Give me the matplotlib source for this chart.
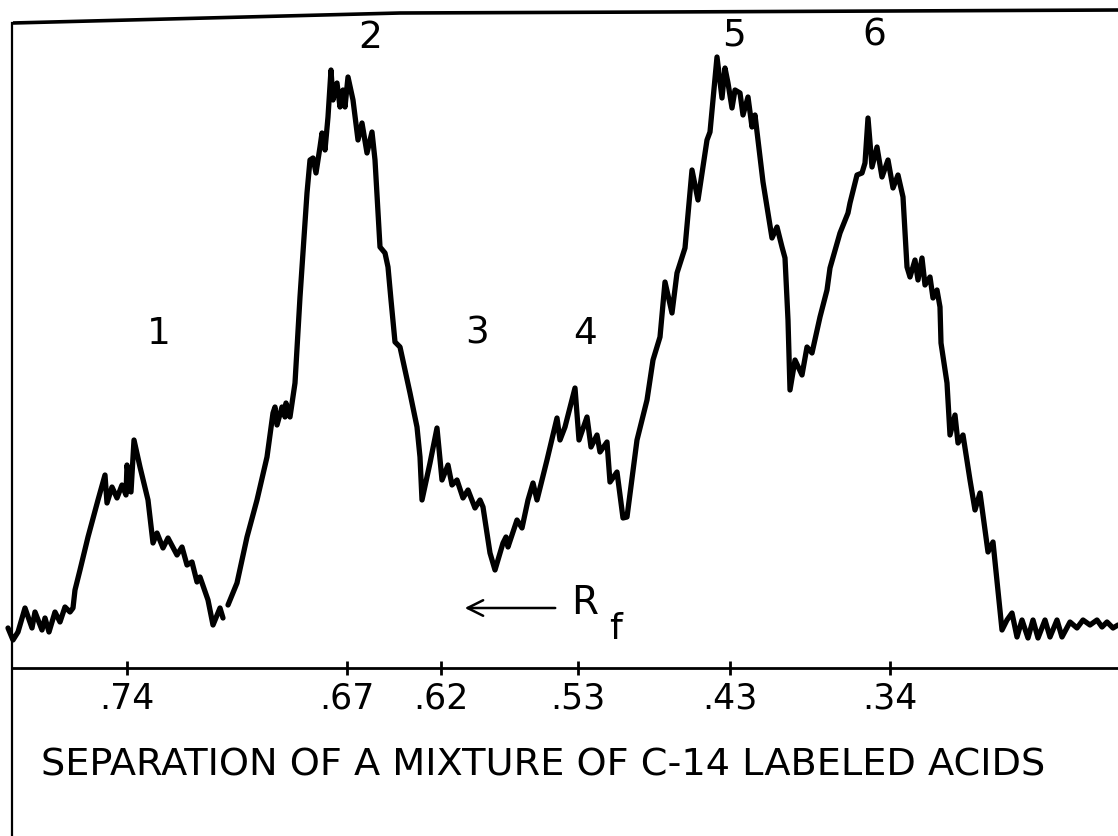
import numpy as np
import matplotlib.pyplot as plt

# Radioactivity scan of a paper strip: pen height above baseline vs. position along strip.
# NaN marks where the recorder pen lifted off the paper.
strip_pos = [
    8, 13, 18, 25, 32, 35, 42, 45, 49, 55, 60, 65, 70, 73, 75, 80, 88, 98, 105, 107,
    112, 117, 122, 126, 127, 131, 134, 140, 148, 153, 157, 163, 168, 177, 182, 187, 192, 197, 200, 208,
    213, 220, 223, np.nan,
    228, 237, 247, 257, 267, 273, 275, 277, 282, 285, 286, 290, 295, 300, 307, 310, 313, 316, 320, 322,
    325, 328, 331, 333, 337, 340, 343, 345, 348, 353, 358, 362, 367, 372, 375, 380, 385, 388, 391, 395,
    400, 410, 417, 420, 422, 430, 437, 442, 448, 452, 457, 463, 468, 475, 480, 483, 490, 495, 503, 506,
    508, 517, 522, 528, 533, 537, 547, 557, 560, 565, 575, 579, 587, 591, 597, 600, 607, 610, 617, 623,
    627, 637, 647, 653, 660, 665, 672, 677, 685, 692, 698, 707, 710, 717, 722, 725, 728, 732, 735, 740,
    743, 748, 752, 755, 763, 772, 777, 782, 785, 788, 790, 795, 802, 807, 812, 820, 827, 830, 840, 848,
    850, 857, 862, 865, 868, 872, 877, 882, 888, 893, 898, 903, 907, 910, 915, 918, 922, 925, 930, 933,
    937, 940, 941, 947, 950, 955, 958, 963, 970, 975, 980, 988, 993, 1002, 1007, 1012, 1017, 1022, 1028, 1033,
    1038, 1045, 1050, 1057, 1062, 1070, 1077, 1083, 1090, 1097, 1102, 1107, 1113, 1118,
]
activity = [
    40, 28, 36, 60, 40, 56, 38, 50, 36, 56, 46, 61, 56, 60, 78, 98, 131, 168, 193, 165,
    181, 170, 183, 173, 203, 176, 228, 201, 168, 125, 135, 120, 130, 113, 121, 103, 106, 86, 91, 68,
    43, 60, 50, np.nan,
    63, 85, 131, 168, 211, 255, 261, 243, 261, 251, 265, 251, 285, 371, 475, 508, 510, 495, 521, 535,
    518, 551, 598, 568, 585, 561, 578, 561, 591, 568, 528, 545, 515, 536, 508, 421, 415, 401, 368, 326,
    321, 275, 241, 211, 168, 205, 240, 188, 203, 183, 188, 170, 178, 160, 168, 161, 115, 98, 125, 131,
    121, 148, 140, 168, 185, 168, 208, 250, 228, 241, 280, 228, 251, 221, 233, 216, 226, 186, 196, 150,
    151, 228, 268, 308, 331, 386, 355, 395, 420, 498, 468, 528, 536, 611, 570, 600, 585, 560, 578, 575,
    553, 571, 541, 553, 486, 430, 441, 421, 410, 348, 278, 308, 293, 321, 315, 351, 378, 400, 435, 455,
    465, 493, 495, 505, 550, 501, 521, 491, 508, 480, 493, 471, 401, 391, 408, 388, 410, 383, 391, 370,
    378, 361, 325, 285, 233, 253, 225, 233, 188, 158, 175, 116, 126, 38, 48, 55, 31, 48, 30, 48,
    30, 48, 31, 48, 31, 46, 40, 48, 43, 48, 41, 46, 40, 43,
]

# Rf scale marked along the baseline
rf_pos = [127, 347, 441, 578, 730, 890]
rf_labels = [".74", ".67", ".62", ".53", ".43", ".34"]

# Peak numbering
peak_ids = ["1", "2", "3", "4", "5", "6"]
peak_x = [159, 370, 477, 585, 734, 874]
peak_y = [335, 631, 335, 335, 634, 634]

# Edges of the chart paper
paper_top_x = [13, 400, 660, 1118]
paper_top_y = [645, 655, 656, 658]
paper_left_x = 12

title = "SEPARATION OF A MIXTURE OF C-14 LABELED ACIDS"

plt.rcParams['font.family'] = ['DejaVu Sans']

fig = plt.figure(figsize=(11.18, 8.37), dpi=100)
ax = fig.add_axes([0, 0, 1, 1])
ax.set_xlim(0, 1118)
ax.set_ylim(-168, 669)
ax.axis("off")

# paper frame and baseline
ax.plot(paper_top_x, paper_top_y, color="black", lw=2.6, solid_capstyle="butt")
ax.plot([paper_left_x, paper_left_x], [paper_top_y[0], -169], color="black", lw=1.6)
ax.plot([paper_left_x, 1118], [0, 0], color="black", lw=2.0)
ax.vlines(rf_pos, -7, 7, color="black", lw=2.0)
for x, lab in zip(rf_pos, rf_labels):
    ax.text(x, -30, lab, ha="center", va="center", fontsize=25)

# the scan trace
ax.plot(strip_pos, activity, color="black", lw=3.8,
        solid_joinstyle="round", solid_capstyle="round")

for lab, x, y in zip(peak_ids, peak_x, peak_y):
    ax.text(x, y, lab, ha="center", va="center", fontsize=27)

# direction of increasing Rf
ax.annotate("", xy=(462, 60), xytext=(558, 60),
            arrowprops=dict(arrowstyle="->", color="black", lw=1.8,
                            mutation_scale=28))
ax.text(585, 66, "R", ha="center", va="center", fontsize=28)
ax.text(615, 40, "f", ha="center", va="center", fontsize=26)

ax.text(543, -97, title, ha="center", va="center", fontsize=27.5)

fig.savefig("out.png", dpi=100)
